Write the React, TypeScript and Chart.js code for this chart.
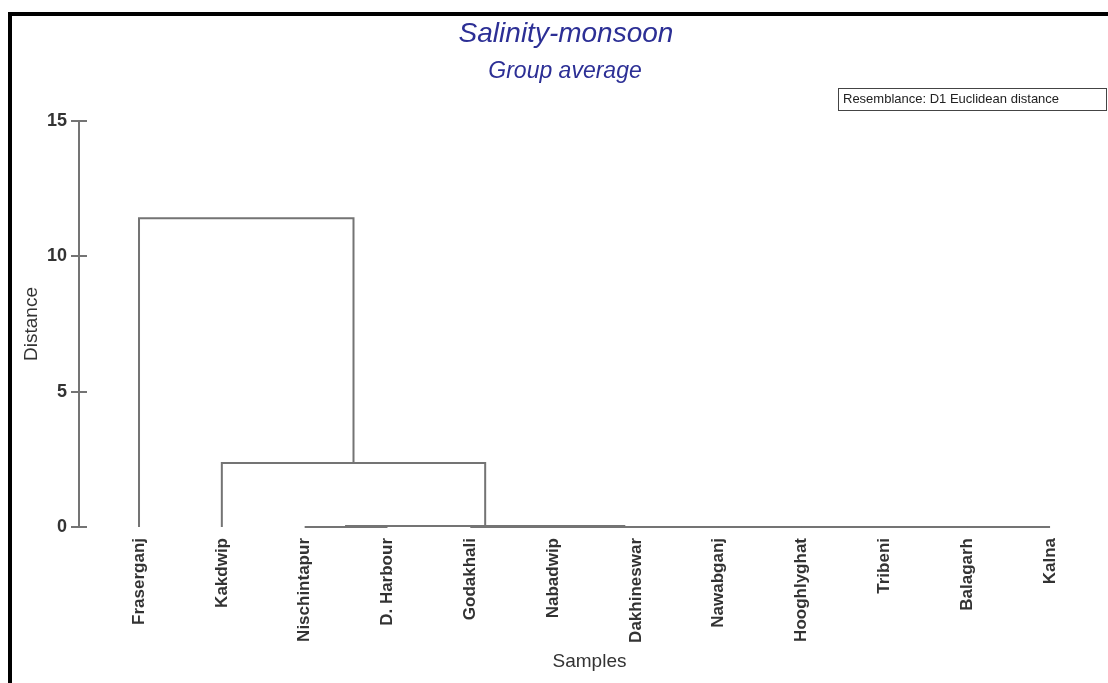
import { useEffect, useRef } from 'react';
import { Chart, registerables } from 'chart.js';

Chart.register(...registerables);

// Samples in dendrogram leaf order
const leafNames = [
  'Fraserganj', 'Kakdwip', 'Nischintapur', 'D. Harbour', 'Godakhali', 'Nabadwip',
  'Dakhineswar', 'Nawabganj', 'Hooghlyghat', 'Tribeni', 'Balagarh', 'Kalna',
];

// Linkage table: ids below 12 are samples, id 12 + k is the cluster made by merge k
const mergeLeft = [8, 7, 13, 14, 5, 16, 4, 2, 19, 1, 0];
const mergeRight = [9, 12, 10, 11, 6, 15, 17, 3, 18, 20, 21];
const mergeHeight = [0, 0, 0, 0, 0, 0, 0, 0, 0.04, 2.36, 11.41];

const distanceTicks = [0, 5, 10, 15];

const titleText = 'Salinity-monsoon';
const subtitleText = 'Group average';
const resemblanceText = 'Resemblance: D1 Euclidean distance';

const LINE = '#747474';
const INK = '#333333';
const BLUE = '#2c2f95';

function buildSegments() {
  const n = leafNames.length;
  const pos: number[] = leafNames.map((_, i) => i);
  const hgt: number[] = leafNames.map(() => 0);
  const segs: { x: number; y: number }[][] = [];
  mergeLeft.forEach((l, k) => {
    const r = mergeRight[k];
    const h = mergeHeight[k];
    const xl = pos[l];
    const xr = pos[r];
    segs.push([
      { x: xl, y: hgt[l] },
      { x: xl, y: h },
      { x: xr, y: h },
      { x: xr, y: hgt[r] },
    ]);
    pos[n + k] = (xl + xr) / 2;
    hgt[n + k] = h;
  });
  return segs;
}

const decorPlugin = {
  id: 'decor',
  afterDraw(chart: any) {
    const { ctx, scales } = chart;
    ctx.save();
    // outer frame
    ctx.fillStyle = '#000';
    ctx.fillRect(8, 12, chart.width, 4);
    ctx.fillRect(8, 12, 4, chart.height);

    // titles
    ctx.fillStyle = BLUE;
    ctx.textAlign = 'center';
    ctx.textBaseline = 'middle';
    ctx.font = 'italic 28px Arial, "Liberation Sans", sans-serif';
    ctx.fillText(titleText, 566, 34);
    ctx.font = 'italic 23px Arial, "Liberation Sans", sans-serif';
    ctx.fillText(subtitleText, 565, 72);

    // resemblance box
    ctx.font = '13px Arial, "Liberation Sans", sans-serif';
    ctx.fillStyle = '#222';
    ctx.textAlign = 'left';
    ctx.fillText(resemblanceText, 843, 99.5);
    ctx.strokeStyle = '#444';
    ctx.lineWidth = 1;
    ctx.strokeRect(838.5, 88.5, 268, 22);

    // inner halves of the distance ticks
    const y = scales.y;
    ctx.strokeStyle = LINE;
    ctx.lineWidth = 2;
    y.ticks.forEach((t: any) => {
      const py = Math.round(y.getPixelForValue(t.value));
      ctx.beginPath();
      ctx.moveTo(chart.chartArea.left, py);
      ctx.lineTo(chart.chartArea.left + 8, py);
      ctx.stroke();
    });
    ctx.restore();
  },
};

export default function App() {
  const canvasRef = useRef<HTMLCanvasElement | null>(null);

  useEffect(() => {
    const canvas = canvasRef.current;
    if (!canvas) return;
    const segs = buildSegments();
    const chart = new Chart(canvas, {
      type: 'line',
      data: {
        datasets: segs.map((s) => ({
          data: s,
          borderColor: LINE,
          borderWidth: 2,
          pointRadius: 0,
          fill: false,
          tension: 0,
          clip: false as any,
        })),
      },
      options: {
        animation: false,
        responsive: true,
        maintainAspectRatio: false,
        parsing: false as any,
        layout: { padding: { top: 121, right: 8, left: 0, bottom: 0 } },
        plugins: {
          legend: { display: false },
          tooltip: { enabled: false },
          title: { display: false },
        },
        scales: {
          x: {
            type: 'linear',
            min: -0.7245,
            max: 11.603,
            afterBuildTicks: (axis: any) => {
              axis.ticks = leafNames.map((_, i) => ({ value: i }));
            },
            afterFit: (scale: any) => {
              scale.height = 156;
            },
            grid: { display: false, drawTicks: false },
            border: { display: false },
            ticks: {
              autoSkip: false,
              minRotation: 90,
              maxRotation: 90,
              padding: 11,
              color: INK,
              font: { family: 'Arial, "Liberation Sans", sans-serif', size: 17, weight: 'bold' },
              callback: (v: any) => leafNames[Number(v)] ?? '',
            },
            title: {
              display: true,
              text: 'Samples',
              color: INK,
              font: { family: 'Arial, "Liberation Sans", sans-serif', size: 19 },
              padding: { top: 0, bottom: 10 },
            },
          },
          y: {
            type: 'linear',
            min: 0,
            max: 15,
            afterBuildTicks: (axis: any) => {
              axis.ticks = distanceTicks.map((v) => ({ value: v }));
            },
            afterFit: (scale: any) => {
              scale.width = 79;
            },
            grid: {
              drawOnChartArea: false,
              drawTicks: true,
              tickLength: 8,
              color: LINE,
              lineWidth: 2,
            },
            border: { display: true, color: LINE, width: 2 },
            ticks: {
              padding: 4,
              color: INK,
              font: { family: 'Arial, "Liberation Sans", sans-serif', size: 18, weight: 'bold' },
            },
            title: {
              display: true,
              text: 'Distance',
              color: INK,
              font: { family: 'Arial, "Liberation Sans", sans-serif', size: 19 },
              padding: { top: 20, bottom: 0 },
            },
          },
        },
      },
      plugins: [decorPlugin],
    });
    return () => chart.destroy();
  }, []);

  return (
    <div style={{ position: 'absolute', left: 0, top: 0, width: 1108, height: 683, background: '#fff' }}>
      <canvas ref={canvasRef} />
    </div>
  );
}
